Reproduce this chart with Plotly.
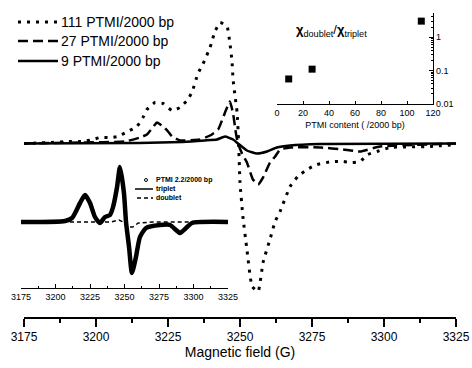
import plotly.graph_objects as go

# ---------------- data ----------------
# main EPR spectra (arbitrary units)
field_111 = [3175, 3184, 3190, 3195.5, 3199, 3201.5, 3205, 3207.5, 3211, 3214.2, 3216.3, 3217.7,
             3220.5, 3223.3, 3226.4, 3229.2, 3231.6, 3233.3, 3235.4, 3237.2, 3239.6, 3241.3,
             3243.1, 3245.5, 3246.5, 3247.2, 3247.6, 3248.3, 3249.0, 3249.5, 3250.0, 3251.0,
             3252.4, 3254.2, 3256.3, 3258.0, 3260.4, 3262.2, 3263.9, 3267.4, 3270.1, 3273.3,
             3276.7, 3282.3, 3285.8, 3288.9, 3291.7, 3294.4, 3297.6, 3302.1, 3316.0, 3325]
sig_111 = [0, 1, 2, 2, 4, 6, 6, 7, 12, 17, 26, 34,
           41, 40, 33, 36, 43, 51, 70, 80, 96, 112,
           121, 117, 100, 83, 64, 47, 31, 2, -39, -73,
           -106, -143, -148, -119, -96, -78, -68, -43, -33, -26,
           -21, -18, -18, -19, -18, -11, -8, -4, -3, -1]

field_27 = [3175, 3195, 3210, 3215.3, 3217.7, 3220.5, 3221.2, 3223.3, 3225.0, 3226.4, 3229.2,
            3236.1, 3239.6, 3242.4, 3244.8, 3246.5, 3247.6, 3248.6, 3249.3, 3250.7, 3252.4,
            3254.5, 3256.3, 3258.0, 3260.4, 3262.2, 3263.9, 3267.4, 3278, 3285.8, 3291.7,
            3298.6, 3325]
sig_27 = [0, 1, 2, 6, 9, 19, 21, 17, 12, 7, 3,
          4, 8, 14, 31, 42, 30, 10, 0, -10, -19,
          -36, -41, -34, -19, -13, -6, -4, -4, -6, -8,
          -3, 0]

field_9 = [3175, 3215, 3230, 3237.8, 3242.0, 3244.8, 3247.6, 3249.3, 3252.4, 3255.9, 3259.4,
           3262.8, 3267.4, 3277.8, 3325]
sig_9 = [0, 0.5, 1.5, 3, 4, 7, 4, 0, -7, -10, -8,
         -4, -2, -0.5, 0]

series_names = ["111 PTMI/2000 bp", "27 PTMI/2000 bp", "9 PTMI/2000 bp"]

# inset: PTMI 2.2/2000 bp spectrum, triplet and doublet simulations
field_in = [3175, 3206.9, 3212, 3217.8, 3221.4, 3225, 3228.6, 3232.2, 3235.9, 3239.5, 3241.7,
            3244.6, 3246.7, 3249.6, 3251.1, 3253.3, 3255.4, 3258.3, 3261.2, 3265.6, 3275.7,
            3283.0, 3287.3, 3290.2, 3294.6, 3298.9, 3325]
sig_exp = [0, 1, 4, 19, 27, 19, 5, -1, 5, 7, 15,
           35, 55, 29, 0, -25, -51, -35, -15, -6, -3,
           -3, -8, -11, -6, -1, 0]
sig_triplet = [0, 1, 4, 19, 27, 19, 5, -1, 5, 7, 15,
               35, 55, 29, 0, -25, -51, -35, -15, -6, -3,
               -3, -8, -11, -6, -1, 0]
field_doublet = [3175, 3240, 3246, 3249, 3251, 3253, 3256, 3260, 3270, 3325]
sig_doublet = [0, 0, 2, 0, -4, -5, -5, -1, 0, 0]
inset_names = ["PTMI 2.2/2000 bp", "triplet", "doublet"]

# ratio inset
ptmi = [9, 27, 111]
ratio = [0.056, 0.11, 3.0]

main_ticks = [3175, 3200, 3225, 3250, 3275, 3300, 3325]
ratio_ticks = [0, 20, 40, 60, 80, 100, 120]
log_ticks = [0.01, 0.1, 1]
log_ticktext = ["0.01", "0.1", "1"]
log_minor = [0.02, 0.03, 0.04, 0.05, 0.06, 0.07, 0.08, 0.09,
             0.2, 0.3, 0.4, 0.5, 0.6, 0.7, 0.8, 0.9, 2, 3, 4, 5]

# ---------------- figure ----------------
W, H = 472, 368
def px(x): return x / W
def py(y): return 1 - y / H

FONT = "Liberation Sans, Arial, sans-serif"
DOT = "3px,6px"
DASH = "10px,5px"
fig = go.Figure()

fig.add_trace(go.Scatter(x=field_111, y=sig_111, mode="lines", name=series_names[0],
                         line=dict(color="black", width=3, dash=DOT, shape="spline", smoothing=0.4),
                         xaxis="x", yaxis="y"))
fig.add_trace(go.Scatter(x=field_27, y=sig_27, mode="lines", name=series_names[1],
                         line=dict(color="black", width=2.5, dash=DASH, shape="spline", smoothing=0.4),
                         xaxis="x", yaxis="y"))
fig.add_trace(go.Scatter(x=field_9, y=sig_9, mode="lines", name=series_names[2],
                         line=dict(color="black", width=2.5, shape="spline", smoothing=0.4),
                         xaxis="x", yaxis="y"))

fig.add_trace(go.Scatter(x=field_in, y=sig_exp, mode="lines", name=inset_names[0],
                         line=dict(color="black", width=4.5, shape="spline", smoothing=0.6),
                         xaxis="x2", yaxis="y2"))
fig.add_trace(go.Scatter(x=field_in, y=sig_triplet, mode="lines", name=inset_names[1],
                         line=dict(color="black", width=2, shape="spline", smoothing=0.6),
                         xaxis="x2", yaxis="y2"))
fig.add_trace(go.Scatter(x=field_doublet, y=sig_doublet, mode="lines", name=inset_names[2],
                         line=dict(color="black", width=1.5, dash="4px,3px"),
                         xaxis="x2", yaxis="y2"))

fig.add_trace(go.Scatter(x=ptmi, y=ratio, mode="markers",
                         marker=dict(symbol="square", size=7, color="black"),
                         xaxis="x3", yaxis="y3"))

axis_common = dict(showgrid=False, zeroline=False, showline=True, linecolor="black",
                   automargin=False)

fig.update_layout(
    template="none",
    width=W, height=H, autosize=False,
    margin=dict(l=0, r=0, t=0, b=0, pad=0),
    paper_bgcolor="white", plot_bgcolor="rgba(0,0,0,0)",
    font=dict(family=FONT, color="black"),
    showlegend=False,
    xaxis=dict(domain=[px(24), px(456)], range=[3175, 3325], anchor="y",
               tickvals=main_ticks, ticks="outside", ticklen=8, tickwidth=1.5, linewidth=1.5,
               tickfont=dict(size=12), tickcolor="black",
               minor=dict(ticks="outside", ticklen=4, tickwidth=1.5, tick0=3175, dtick=12.5,
                          tickcolor="black"),
               title=dict(text="Magnetic field (G)", font=dict(size=14), standoff=4),
               **axis_common),
    yaxis=dict(domain=[py(317), 1], range=[-173.5, 143.5], visible=False, anchor="x",
               automargin=False),
    xaxis2=dict(domain=[px(21), px(228)], range=[3175, 3325], anchor="y2",
                tickvals=main_ticks, ticks="inside", ticklen=4, tickwidth=1, linewidth=1.2,
                tickfont=dict(size=9), tickcolor="black",
                minor=dict(ticks="inside", ticklen=2, tick0=3175, dtick=12.5, tickcolor="black"),
                **axis_common),
    yaxis2=dict(domain=[py(288), py(160)], range=[-66, 62], visible=False, anchor="x2",
                automargin=False),
    xaxis3=dict(domain=[px(277), px(433)], range=[0, 120], anchor="y3",
                tickvals=ratio_ticks, ticks="inside", ticklen=3, linewidth=1.2,
                tickfont=dict(size=9), tickcolor="black",
                title=dict(text="PTMI content ( /2000 bp)", font=dict(size=9), standoff=4),
                **axis_common),
    yaxis3=dict(domain=[py(104), py(13)], type="log", range=[-2, 0.72], anchor="x3",
                side="right", tickvals=log_ticks, ticktext=log_ticktext,
                ticks="inside", ticklen=4, linewidth=1.2, tickfont=dict(size=9),
                tickcolor="black",
                minor=dict(ticks="inside", ticklen=2, tickvals=log_minor, tickcolor="black"),
                **axis_common),
)

# main legend (line samples + labels)
for (name, dash, w), yy in zip([(series_names[0], DOT, 3), (series_names[1], DASH, 2.5),
                                (series_names[2], "solid", 2.5)], [22, 41, 61]):
    fig.add_shape(type="line", xref="paper", yref="paper", x0=px(18), x1=px(58),
                  y0=py(yy), y1=py(yy), line=dict(color="black", width=w, dash=dash))
    fig.add_annotation(text=name, xref="paper", yref="paper", x=px(59), y=py(yy),
                       xanchor="left", yanchor="middle", showarrow=False,
                       font=dict(size=14, family=FONT))

# ratio inset title
fig.add_annotation(text="<b>χ</b><sub>doublet</sub>/<b>χ</b><sub>triplet</sub>",
                   xref="paper", yref="paper", x=px(294), y=py(30), xanchor="left", yanchor="middle",
                   showarrow=False, font=dict(size=13, family=FONT))

# inset legend (symbols + text)
fig.add_shape(type="circle", xref="paper", yref="paper",
              x0=px(144.5), x1=px(147.5), y0=py(181.5), y1=py(178.5),
              line=dict(color="black", width=1), fillcolor="white")
fig.add_shape(type="line", xref="paper", yref="paper", x0=px(135), x1=px(153),
              y0=py(189), y1=py(189), line=dict(color="black", width=1.5))
fig.add_shape(type="line", xref="paper", yref="paper", x0=px(137), x1=px(153),
              y0=py(198), y1=py(198), line=dict(color="black", width=1.5, dash="4px,3px"))
for txt, yy in zip(inset_names, [180, 189, 198]):
    fig.add_annotation(text="<b>%s</b>" % txt, xref="paper", yref="paper",
                       x=px(154), y=py(yy), xanchor="left", yanchor="middle",
                       showarrow=False, font=dict(size=7, family=FONT))

fig.write_html("out.html", config={"displayModeBar": False},
               post_script="document.body.style.margin='0';document.body.style.padding='0';")
